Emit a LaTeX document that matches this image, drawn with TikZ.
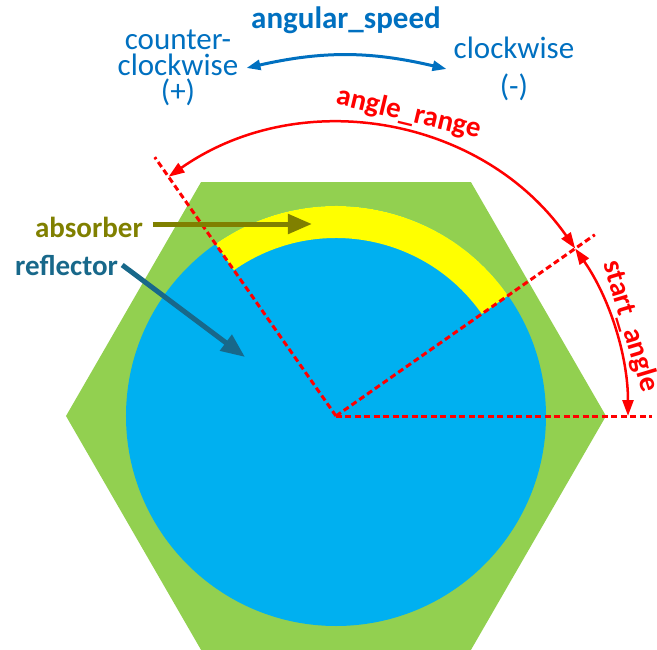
\documentclass[tikz,border=0pt]{standalone}
\usepackage{fontspec}
\setmainfont{Carlito}
\usetikzlibrary{positioning, arrows.meta}
\definecolor{hexgreen}{RGB}{146,208,80}
\definecolor{reflblue}{RGB}{0,176,240}
\definecolor{absyellow}{RGB}{255,255,0}
\definecolor{speedblue}{RGB}{0,112,192}
\definecolor{absolive}{RGB}{128,128,0}
\definecolor{refteal}{RGB}{24,104,138}
\definecolor{rangered}{RGB}{255,0,0}

\begin{document}
\begin{tikzpicture}[x=1pt, y=1pt,
        guide/.style={draw=rangered, line width=3pt, dash pattern=on 6pt off 3.5pt},
        dimarc/.style={draw=rangered, line width=2.5pt,
              {Triangle[length=16pt,width=11pt]}-{Triangle[length=16pt,width=11pt]}},
        dimlabel/.style={text=rangered, inner sep=0pt, font=\fontsize{29}{30}\selectfont\bfseries},
        speedtext/.style={text=speedblue, inner sep=0pt, align=center, font=\fontsize{31}{26}\selectfont},
        partlabel/.style={inner sep=0pt, font=\fontsize{29}{30}\selectfont\bfseries},
        pointer/.style={line width=5pt, -{Triangle[length=24pt,width=19pt]}}]

    \useasboundingbox (-336,-233) rectangle (321,416);

    % hexagon, reflector and absorber
    \fill[hexgreen] (0:270) \foreach \a in {60,120,...,300} {-- (\a:270)} -- cycle;
    \fill[reflblue] (0,0) circle (210);
    \fill[absyellow] (35:210) arc (35:125:210) -- (125:178) arc (125:35:178) -- cycle;

    % guide lines
    \coordinate (centre) at (0,0);
    \coordinate (zero) at (0:316);
    \coordinate (start) at (35:316);
    \coordinate (stop) at (125:316);
    \draw[guide] (centre) -- (zero);
    \draw[guide] (centre) -- (start);
    \draw[guide] (centre) -- (stop);

    % angle dimensions
    \draw[dimarc] (35:292) arc (35:125:292);
    \draw[dimarc] (0:292) arc (0:35:292);
    \node[dimlabel, rotate=-13.5] (range) at (76.5:311) {angle\_range};
    \node[dimlabel, rotate=-73.3] (startlbl) at (16.9:307.5) {start\_angle};

    % rotation direction
    \node[speedtext, font=\fontsize{31}{26}\selectfont\bfseries, anchor=base] (speed) at (10,388) {angular\_speed};
    \node[speedtext] (ccw) at (-158,348) {counter-\\clockwise\\(+)};
    \node[speedtext] (cw) at (178,347) {clockwise\\[12pt](-)};
    \draw[speedblue, line width=3pt, {Triangle[length=14pt,width=10pt]}-{Triangle[length=14pt,width=10pt]}]
        ([xshift=8pt]ccw.east) to[bend left=13] ([xshift=-7pt]cw.west);

    % part labels
    \node[partlabel, text=absolive, anchor=base east] (absorber) at (-193,179) {absorber};
    \node[partlabel, text=refteal, anchor=base west] (reflector) at (-321,141) {reflector};
    \coordinate (abstip) at (-24,192);
    \coordinate (refltip) at (-91,59);
    \draw[pointer, absolive] ([xshift=10pt]absorber.east |- abstip) -- (abstip);
    \draw[pointer, refteal] ([xshift=4pt]reflector.east) -- (refltip);
\end{tikzpicture}
\end{document}
